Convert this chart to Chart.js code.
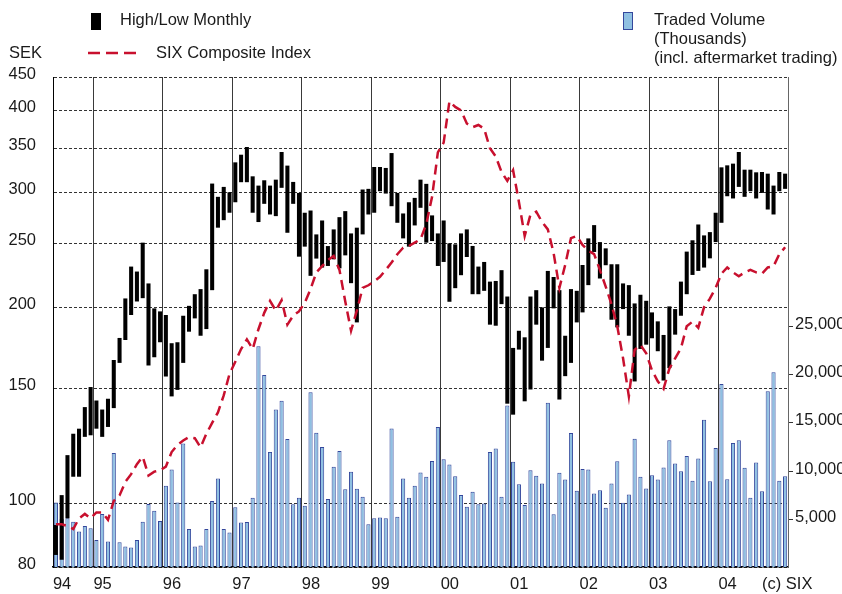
<!DOCTYPE html>
<html>
<head>
<meta charset="utf-8">
<script src="https://cdn.jsdelivr.net/npm/chart.js@4/dist/chart.umd.min.js"></script>
<style>
  html, body { margin: 0; padding: 0; background: #fff; }
</style>
</head>
<body>
<canvas id="chart" width="842" height="594"></canvas>
<script>
// months Jun 1994 - Dec 2004
var months = [
  '1994-06','1994-07','1994-08','1994-09','1994-10','1994-11','1994-12',
  '1995-01','1995-02','1995-03','1995-04','1995-05','1995-06','1995-07','1995-08','1995-09','1995-10','1995-11','1995-12',
  '1996-01','1996-02','1996-03','1996-04','1996-05','1996-06','1996-07','1996-08','1996-09','1996-10','1996-11','1996-12',
  '1997-01','1997-02','1997-03','1997-04','1997-05','1997-06','1997-07','1997-08','1997-09','1997-10','1997-11','1997-12',
  '1998-01','1998-02','1998-03','1998-04','1998-05','1998-06','1998-07','1998-08','1998-09','1998-10','1998-11','1998-12',
  '1999-01','1999-02','1999-03','1999-04','1999-05','1999-06','1999-07','1999-08','1999-09','1999-10','1999-11','1999-12',
  '2000-01','2000-02','2000-03','2000-04','2000-05','2000-06','2000-07','2000-08','2000-09','2000-10','2000-11','2000-12',
  '2001-01','2001-02','2001-03','2001-04','2001-05','2001-06','2001-07','2001-08','2001-09','2001-10','2001-11','2001-12',
  '2002-01','2002-02','2002-03','2002-04','2002-05','2002-06','2002-07','2002-08','2002-09','2002-10','2002-11','2002-12',
  '2003-01','2003-02','2003-03','2003-04','2003-05','2003-06','2003-07','2003-08','2003-09','2003-10','2003-11','2003-12',
  '2004-01','2004-02','2004-03','2004-04','2004-05','2004-06','2004-07','2004-08','2004-09','2004-10','2004-11','2004-12'
];

// share price, SEK
var stockHigh = [
  92.8,103.1,118.7,128.0,130.3,140.6,150.9,
  143.9,139.4,144.8,166.0,179.4,206.2,230.7,226.7,251.0,217.4,199.1,197.0,
  194.5,176.1,176.7,194.0,200.9,209.3,213.1,228.5,309.1,295.0,305.5,299.8,
  333.1,342.2,351.6,317.1,306.9,312.7,306.9,313.4,345.5,329.3,310.9,299.1,
  278.9,281.1,258.4,271.4,248.0,263.0,274.6,280.5,259.3,264.6,302.7,303.4,
  327.7,327.7,326.6,344.2,299.1,278.2,289.4,293.9,313.4,308.8,276.3,259.3,
  271.4,250.4,249.5,259.3,263.0,248.1,230.7,234.5,218.8,219.3,227.8,207.6,
  173.2,184.0,179.8,207.6,212.3,199.8,227.2,222.4,212.3,180.8,213.1,211.8,
  232.0,254.8,267.0,251.5,246.0,232.6,232.6,217.4,216.1,202.6,208.9,204.5,
  196.3,190.2,181.3,200.5,198.6,218.8,243.2,253.1,267.6,257.5,260.5,278.9,
  327.3,329.6,331.6,345.5,324.6,324.6,321.6,322.0,320.1,306.9,322.0,320.1
];
var stockLow = [
  83.5,82.1,95.0,110.0,110.0,126.6,127.3,
  130.3,126.6,131.1,140.1,164.3,178.1,194.5,204.0,206.4,162.8,167.6,176.7,
  156.6,146.0,149.4,164.3,183.4,192.2,180.8,185.1,212.3,264.6,271.7,278.9,
  289.4,310.6,310.6,278.9,269.9,287.8,277.2,275.6,304.5,259.9,287.8,238.9,
  247.5,223.3,237.3,229.9,231.2,236.7,229.3,240.0,217.6,189.5,258.4,277.2,
  278.9,300.9,298.4,285.4,269.2,254.8,247.5,266.7,283.8,251.0,252.4,231.2,
  234.5,203.8,213.8,223.8,238.6,209.3,209.3,211.8,188.0,187.3,202.1,142.3,
  136.9,172.2,143.5,149.6,188.0,165.6,173.2,199.1,144.4,156.8,164.3,189.5,
  196.3,216.1,242.9,221.2,231.8,191.3,186.2,198.6,180.8,153.9,172.6,175.2,
  179.2,171.2,154.4,161.3,181.5,194.0,209.3,224.0,227.2,229.9,237.5,251.5,
  269.2,295.6,293.3,305.5,295.0,300.9,293.3,299.1,282.1,277.2,300.9,303.4
];

// SIX composite index, rebased to the SEK scale
var sixIndex = [
  93,93,92.5,91.5,95,96.5,95,
  97,97,94.5,101,103,108,111,115,118,110.5,112,112.5,
  114,120,123,125,126.5,126,122,128,133,138,146.5,158,
  165,172.5,178.5,172.5,185,196,204.5,197.5,205,188,194,197,
  203,213,226,231,236,239.5,228,204,184,197.5,214,216,
  219,222.5,228,234,241,246.5,248,251,254,268,295,345,
  357,413,405,400,382,377,380,375,350,340,322,312,
  324,290,257,277,280,270,263,242,214,232,255,257,
  249,244,241,228,215,202,187,167,146,172,175,170,
  160,154,150,161,167,173,187,190,186,200,206,214,
  225,230,226,223,226,228,226,225,230,231,241,247
];

// traded volume, thousands
var volume = [
  6730,5000,5080,4730,3700,4280,4040,
  2830,5520,2660,11880,2590,2140,2040,2830,4730,6560,5870,4800,
  8460,10150,6730,12850,3970,2140,2250,3970,6870,9220,3970,3590,
  6220,4630,4700,7220,22970,20000,11990,16400,17300,13330,6530,7220,
  6390,18200,13990,12500,7080,10430,12090,8110,9910,8150,7320,4450,
  5080,5150,5080,14430,5250,9220,7220,8460,9840,9400,11050,14580,
  11220,10670,9460,7490,6290,7840,6530,6630,11990,12330,7320,16810,
  10950,8630,6450,10080,9500,8700,17090,5490,9810,9120,13950,7950,
  10220,10150,7670,8010,6180,8700,11010,6700,7560,13360,9400,8180,
  9560,9120,10360,13190,10770,9980,11570,8980,11290,15330,8940,12400,
  19060,9150,12920,13190,10330,7220,10880,7900,18300,20270,8980,9460
];

var priceTicks = [80, 100, 150, 200, 250, 300, 350, 400, 450];
var volumeTicks = [5000, 10000, 15000, 20000, 25000];

var FONT = '"Liberation Sans", Arial, Helvetica, sans-serif';
var RED = '#c8102e';
var BLUE_FILL = '#8fc0e2';
var BLUE_EDGE = '#34479c';

Chart.defaults.font.family = FONT;
Chart.defaults.font.size = 16.5;
Chart.defaults.color = '#1a1a1a';

var decor = {
  id: 'decor',
  afterDraw: function(chart) {
    var c = chart.ctx;
    c.save();
    c.font = '16.5px ' + FONT;
    c.fillStyle = '#1a1a1a';
    c.textBaseline = 'alphabetic';
    c.textAlign = 'left';
    c.fillText('High/Low Monthly', 120, 25);
    c.fillText('SEK', 9, 58);
    c.fillText('SIX Composite Index', 156, 57.5);
    c.fillText('Traded Volume', 654, 24.5);
    c.fillText('(Thousands)', 654, 43.5);
    c.fillText('(incl. aftermarket trading)', 654, 63);
    c.fillText('(c) SIX', 762, 589);

    c.fillStyle = '#000';
    c.fillRect(91, 13, 10, 17);

    c.fillStyle = BLUE_FILL;
    c.fillRect(623.5, 12.5, 9, 17);
    c.strokeStyle = BLUE_EDGE;
    c.lineWidth = 1;
    c.strokeRect(623.5, 12.5, 9, 17);

    c.strokeStyle = RED;
    c.lineWidth = 2.5;
    c.setLineDash([12, 6]);
    c.beginPath();
    c.moveTo(88, 53);
    c.lineTo(138, 53);
    c.stroke();
    c.restore();
  }
};

new Chart(document.getElementById('chart').getContext('2d'), {
  type: 'bar',
  data: {
    labels: months,
    datasets: [{
      type: 'line',
      label: 'SIX Composite Index',
      data: sixIndex,
      yAxisID: 'y',
      borderColor: RED,
      borderWidth: 2.5,
      borderDash: [10, 6],
      pointRadius: 0,
      tension: 0,
      fill: false,
      order: 1
    }, {
      type: 'bar',
      label: 'High/Low Monthly',
      data: stockHigh.map(function(h, i) { return [stockLow[i], h]; }),
      yAxisID: 'y',
      backgroundColor: '#000',
      borderWidth: 0,
      barPercentage: 0.7,
      categoryPercentage: 1,
      grouped: false,
      order: 2
    }, {
      type: 'bar',
      label: 'Traded Volume',
      data: volume,
      yAxisID: 'vol',
      backgroundColor: BLUE_FILL,
      borderColor: BLUE_EDGE,
      borderWidth: 1,
      barPercentage: 0.72,
      categoryPercentage: 1,
      grouped: false,
      order: 3
    }]
  },
  options: {
    responsive: false,
    animation: false,
    layout: { padding: { top: 77, left: 0, right: 0, bottom: 0 } },
    plugins: {
      legend: { display: false },
      tooltip: { enabled: false }
    },
    scales: {
      x: {
        type: 'category',
        offset: true,
        grid: {
          offset: true,
          drawTicks: false,
          lineWidth: 1,
          color: function(ctx) {
            if (!ctx.tick) return '#666';
            if (ctx.index === 0) return '#000';
            return months[ctx.index].slice(5) === '01' ? '#3a3a3a' : 'rgba(0,0,0,0)';
          }
        },
        border: { display: true, color: '#000', width: 1.5 },
        ticks: {
          autoSkip: false,
          maxRotation: 0,
          minRotation: 0,
          align: 'start',
          labelOffset: -3,
          padding: 7,
          callback: function(value, index) {
            var m = months[index];
            if (index === 0 || m.slice(5) === '01') return m.slice(2, 4);
            return '';
          }
        },
        afterFit: function(s) { s.height = 25; }
      },
      y: {
        type: 'logarithmic',
        position: 'left',
        min: 80,
        max: 450,
        afterBuildTicks: function(s) {
          s.ticks = priceTicks.map(function(v) { return { value: v }; });
        },
        grid: { drawTicks: false, color: '#333', lineWidth: 1 },
        border: { display: true, color: '#000', width: 1, dash: [3, 2] },
        ticks: {
          padding: 17,
          labelOffset: -3,
          callback: function(v) { return String(v); }
        },
        afterFit: function(s) { s.width = 53; }
      },
      vol: {
        type: 'linear',
        position: 'right',
        min: 0,
        max: 51000,
        afterBuildTicks: function(s) {
          s.ticks = volumeTicks.map(function(v) { return { value: v }; });
        },
        grid: { drawOnChartArea: false, drawTicks: true, tickLength: 5, tickColor: '#333' },
        border: { display: true, color: '#666', width: 1 },
        ticks: {
          padding: 2,
          labelOffset: -2,
          callback: function(v) { return v.toLocaleString('en-US'); }
        },
        afterFit: function(s) { s.width = 54; }
      }
    }
  },
  plugins: [decor]
});
</script>
</body>
</html>
